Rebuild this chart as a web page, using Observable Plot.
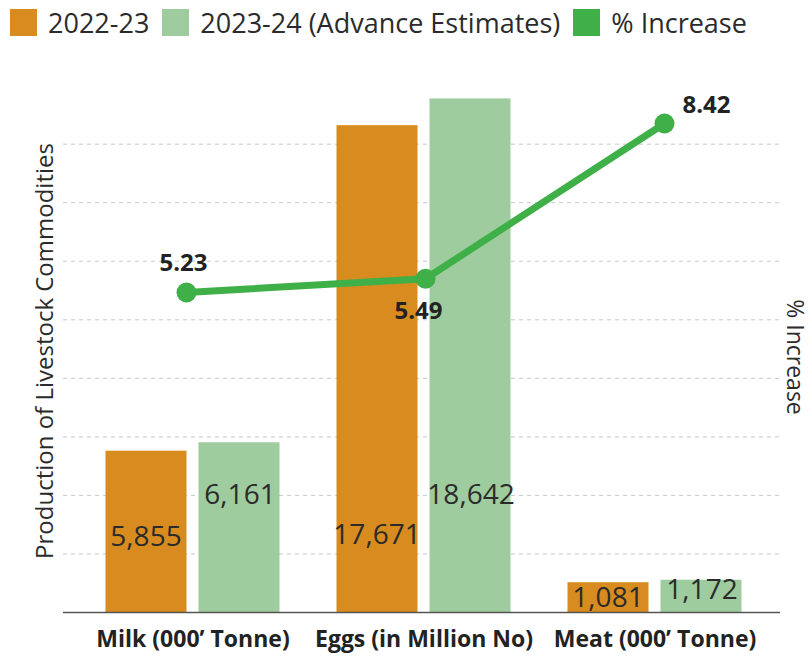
<!DOCTYPE html>
<html>
<head>
<meta charset="utf-8">
<script src="https://cdn.jsdelivr.net/npm/d3@7"></script>
<script src="https://cdn.jsdelivr.net/npm/@observablehq/plot@0.6"></script>
<style>
  html, body { margin: 0; padding: 0; background: #fff; }
  body { width: 812px; height: 659px; overflow: hidden; font-family: "Open Sans", sans-serif; }
  #legend { height: 44px; display: flex; align-items: center; padding-left: 10px; box-sizing: border-box; color: #2b2b2b; font-size: 27px; }
  .item { display: flex; align-items: center; margin-right: 13px; }
  .sw { width: 27px; height: 27px; margin-right: 11px; }
  #chart { position: relative; width: 812px; height: 615px; }
  #chart svg { display: block; position: absolute; left: 0; top: 0; }
</style>
</head>
<body>
<div id="legend"></div>
<div id="chart"></div>
<script>
// ---- data ----
const categories = ["Milk (000’ Tonne)", "Eggs (in Million No)", "Meat (000’ Tonne)"];
const seriesNames = ["2022-23", "2023-24 (Advance Estimates)", "% Increase"];
const values2022 = [5855, 17671, 1081];
const values2023 = [6161, 18642, 1172];
const pctIncrease = [5.23, 5.49, 8.42];
const gridTicks = [2125, 4250, 6375, 8500, 10625, 12750, 14875, 17000];

// ---- styling / layout constants ----
const colors = ["#D88B1E", "#9FCC9E", "#3FAF48"];
const yDomain = [0, 20000];
const pctDomain = [-0.81, 9.59];
const fmt = d3.format(",");

// legend
const legend = document.getElementById("legend");
seriesNames.forEach((s, i) => {
  const it = document.createElement("div");
  it.className = "item";
  it.innerHTML = `<div class="sw" style="background:${colors[i]}"></div><span>${s}</span>`;
  legend.appendChild(it);
});

const idx = categories.map((_, i) => i);
const cat = i => categories[i];
const pctToY = d3.scaleLinear().domain(pctDomain).range(yDomain);
const font = { fontFamily: "Open Sans, sans-serif", background: "transparent" };

// bars (primary axis)
const bars = Plot.plot({
  width: 812,
  height: 615,
  marginLeft: 63,
  marginRight: 32,
  marginTop: 17,
  marginBottom: 47,
  style: font,
  x: { domain: categories, paddingInner: 0, paddingOuter: 0.0453, align: 0.595, axis: null },
  y: { domain: yDomain, axis: null },
  marks: [
    Plot.ruleY(gridTicks, { stroke: "#c8c8c8", strokeWidth: 1, strokeDasharray: "4,4" }),
    Plot.barY(idx, { x: cat, y: i => values2022[i], fill: colors[0], insetLeft: 28.5, insetRight: 121.5 }),
    Plot.barY(idx, { x: cat, y: i => values2023[i], fill: colors[1], insetLeft: 121.5, insetRight: 28.5 }),
    Plot.ruleY([0], { stroke: "#555", strokeWidth: 1.5 }),
    Plot.text(idx, { x: cat, y: i => Math.min(values2022[i] * 0.47, 2800), text: i => fmt(values2022[i]), dx: -47, fontSize: 28, fill: "#2b2b2b" }),
    Plot.text(idx, { x: cat, y: i => Math.min(values2023[i] * 0.69, 4250), text: i => fmt(values2023[i]), dx: 47, fontSize: 28, fill: "#2b2b2b" }),
    Plot.text(idx, { x: cat, text: cat, frameAnchor: "bottom", dy: 34, fontSize: 23, fontWeight: "bold", fill: "#222" }),
    Plot.text(["Production of Livestock Commodities"], { frameAnchor: "left", textAnchor: "middle", rotate: -90, dx: -18, dy: 14, fontSize: 24, fill: "#2b2b2b" }),
    Plot.text(["% Increase"], { frameAnchor: "right", textAnchor: "middle", rotate: 90, dx: 14, dy: 20, fontSize: 23, fill: "#2b2b2b" })
  ]
});

// % increase line (secondary axis, its own category positions)
const line = Plot.plot({
  width: 812,
  height: 615,
  marginLeft: 66.5,
  marginRight: 28.5,
  marginTop: 17,
  marginBottom: 47,
  style: font,
  x: { type: "point", domain: categories, padding: 0.5, axis: null },
  y: { domain: yDomain, axis: null },
  marks: [
    Plot.line(idx, { x: cat, y: i => pctToY(pctIncrease[i]), stroke: colors[2], strokeWidth: 7 }),
    Plot.dot(idx, { x: cat, y: i => pctToY(pctIncrease[i]), r: 10, fill: colors[2] }),
    Plot.text([0], { x: cat, y: i => pctToY(pctIncrease[i]), text: i => pctIncrease[i].toFixed(2), dx: -3, dy: -29, fontSize: 24, fontWeight: "bold", fill: "#222" }),
    Plot.text([1], { x: cat, y: i => pctToY(pctIncrease[i]), text: i => pctIncrease[i].toFixed(2), dx: -7, dy: 33, fontSize: 24, fontWeight: "bold", fill: "#222" }),
    Plot.text([2], { x: cat, y: i => pctToY(pctIncrease[i]), text: i => pctIncrease[i].toFixed(2), dx: 42, dy: -18, fontSize: 24, fontWeight: "bold", fill: "#222" })
  ]
});

const host = document.getElementById("chart");
host.appendChild(bars);
host.appendChild(line);
</script>
</body>
</html>
